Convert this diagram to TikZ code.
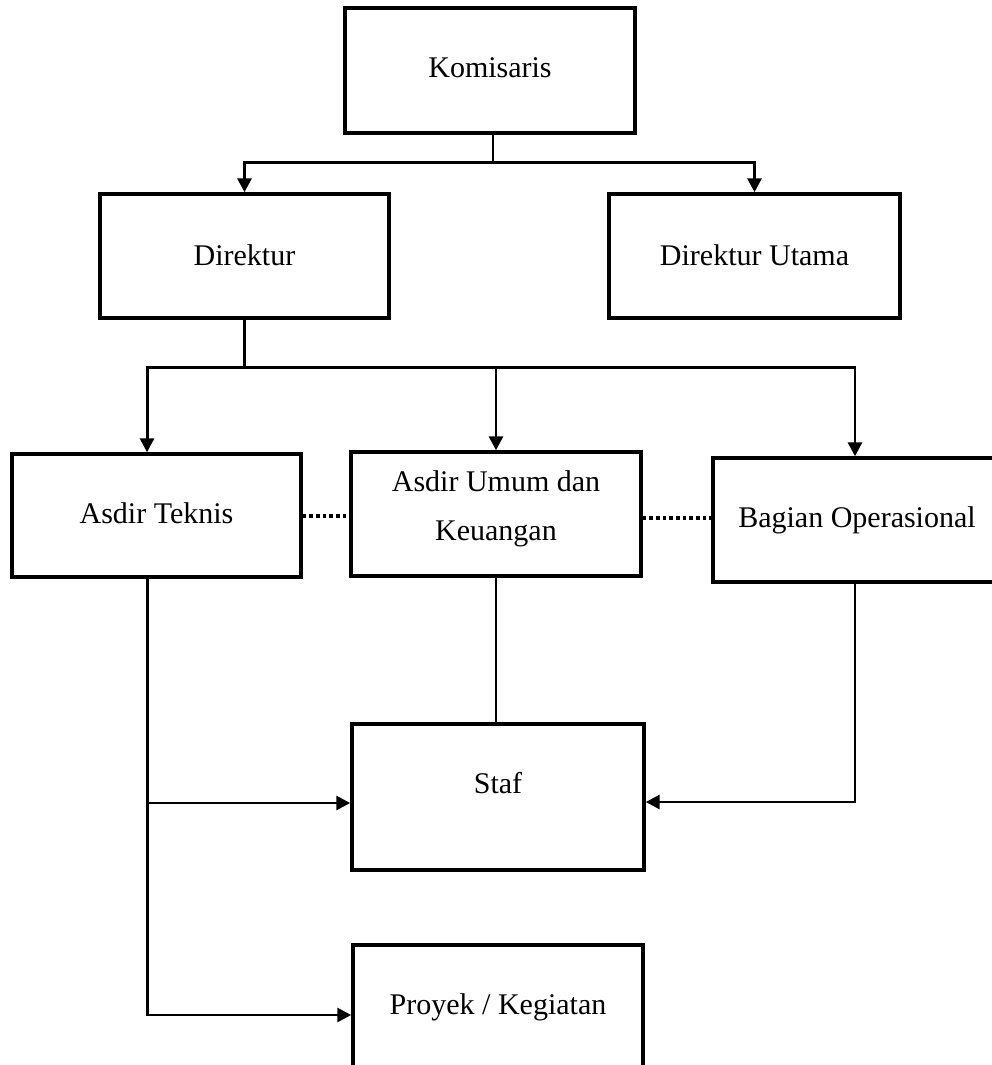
\documentclass[tikz,border=0pt]{standalone}
\usepackage{fontspec}
\setmainfont{Liberation Serif}
\usetikzlibrary{arrows.meta}
\begin{document}
\begin{tikzpicture}[x=0.75pt,y=-0.75pt,
  box/.style={draw=black,line width=2.6pt,rectangle,inner sep=0pt,fill=white},
  txt/.style={inner sep=0pt,anchor=base,font=\fontsize{22.5pt}{27pt}\selectfont},
  conn/.style={draw=black,line width=2.2pt},
  arr/.style={conn,-{Triangle[length=10.5pt,width=10.5pt]}},
  dotline/.style={draw=black,line width=3pt,dash pattern=on 2.6pt off 2.4pt}]
\useasboundingbox (0,0) rectangle (992,1065);
\clip (0,0) rectangle (992,1065);
\fill[white] (0,0) rectangle (992,1065);
% boxes
\node[box,minimum width=217.5pt,minimum height=93.75pt] (kom) at (490,70.5) {};
\node[box,minimum width=216.75pt,minimum height=93pt] (dir) at (244.5,256) {};
\node[box,minimum width=218.25pt,minimum height=93pt] (dut) at (754.5,256) {};
\node[box,minimum width=216.75pt,minimum height=92.25pt] (at) at (156.5,515.5) {};
\node[box,minimum width=217.5pt,minimum height=93pt] (au) at (496,514) {};
\node[box,minimum width=216pt,minimum height=93pt] (bo) at (857,520) {};
\node[box,minimum width=219pt,minimum height=109.5pt] (staf) at (498,797) {};
\node[box,minimum width=217.5pt,minimum height=111pt] (pro) at (498,1019) {};
% texts
\node[txt] (tkom) at (490,77) {Komisaris};
\node[txt] (tdir) at (244.5,265) {Direktur};
\node[txt] (tdut) at (754.5,265) {Direktur Utama};
\node[txt] (tat) at (156.5,523) {Asdir Teknis};
\node[txt] (tau1) at (496,491) {Asdir Umum dan};
\node[txt] (tau2) at (496,540) {Keuangan};
\node[txt] (tbo) at (857,527) {Bagian Operasional};
\node[txt] (tstaf) at (498,793) {Staf};
\node[txt] (tpro) at (498,1014) {Proyek / Kegiatan};
% connectors
\path (kom.south) ++(3,28) coordinate (j1);
\draw[conn] (kom.south -| j1) -- (j1);
\draw[arr] (j1) -| (dir.north);
\draw[arr] (j1) -| (dut.north);
\path (dir.south) ++(0,48) coordinate (j2);
\draw[conn] (dir.south) -- (j2);
\coordinate (atn) at ([xshift=-7.1pt]at.north);
\coordinate (ats) at ([xshift=-7.1pt]at.south);
\draw[arr] (j2) -| (atn);
\draw[arr] (j2) -| (au.north);
\draw[arr] (j2) -| ([xshift=-1.5pt]bo.north);
\draw[dotline] (at.east) -- (at.east -| au.west);
\draw[dotline] ([yshift=-3pt]au.east) -- ([yshift=-3pt]au.east -| bo.west);
\draw[conn] (au.south) -- (au.south |- staf.north);
\draw[arr] (ats) |- ([yshift=3pt]pro.west);
\draw[arr] (ats |- staf.west) ++(0,6) -- ([yshift=-4.5pt]staf.west);
\draw[arr] ([xshift=-1.5pt]bo.south) |- ([yshift=-3.75pt]staf.east);
\end{tikzpicture}
\end{document}
